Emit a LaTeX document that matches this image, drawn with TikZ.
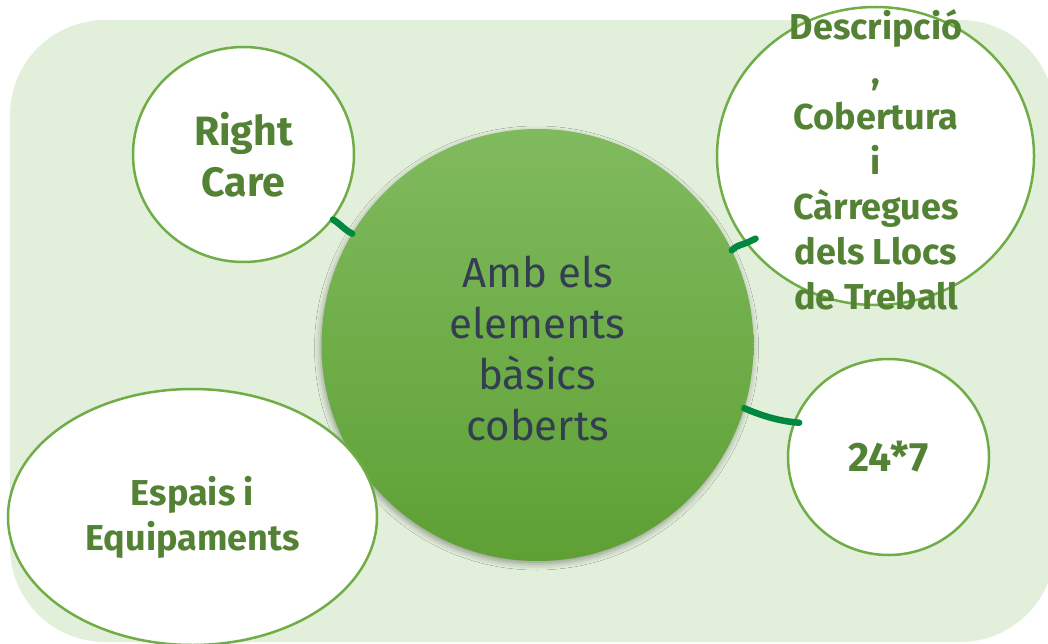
\documentclass[tikz,border=0pt]{standalone}
\usepackage{fontspec}
\setmainfont{Fira Sans}
\usetikzlibrary{shapes.geometric,shadows.blur}
\definecolor{bgg}{RGB}{226,239,218}
\definecolor{ring}{RGB}{112,173,71}
\definecolor{lbl}{RGB}{84,130,53}
\definecolor{ctxt}{RGB}{51,63,80}
\definecolor{conn}{RGB}{0,136,62}
\definecolor{topg}{RGB}{128,186,94}
\definecolor{botg}{RGB}{94,160,52}
\begin{document}
\begin{tikzpicture}[x=1pt,y=-1pt,
  sat/.style={ellipse, draw=ring, line width=2.5pt, fill=white, inner sep=0pt},
  lab/.style={text=lbl, font=\bfseries\fontsize{36}{45}\selectfont, align=center},
  link/.style={draw=conn, line width=6.5pt, line cap=round}]
\clip (0,0) rectangle (1048,644);
\fill[bgg, rounded corners=95pt] (10,20) rectangle (1055,642);
\node[circle, minimum size=432pt, inner sep=0pt, top color=topg, bottom color=botg,
  blur shadow={shadow xshift=-1pt, shadow yshift=-3pt, shadow blur radius=6pt, shadow opacity=35}] (main) at (537.5,345) {};
\node[text=ctxt, font=\fontsize{42}{51}\selectfont, align=center] (mtext) at (537.5,348) {Amb els\\elements\\bàsics\\coberts};
\node[sat, minimum width=221pt, minimum height=215pt, lab, font=\bfseries\fontsize{41}{51}\selectfont] (rc) at (243.5,154.5) {Right\\Care};
\node[sat, minimum width=317pt, minimum height=298pt] (desc) at (875.5,156) {};
\node[lab] (desctext) at (876,160) {Descripció\\,\\Cobertura\\i\\Càrregues\\dels Llocs\\de Treball};
\node[sat, minimum width=369pt, minimum height=256pt, lab] (esp) at (192.5,517) {Espais i\\Equipaments};
\node[sat, minimum width=201pt, minimum height=196pt, lab, font=\bfseries\fontsize{41}{51}\selectfont] (t247) at (888.5,457) {24*7};
\draw[link] (rc.-36) .. controls +(8,5) and +(-8,-4) .. (main.149);
\draw[link, shorten >=-11pt] (main.26) .. controls +(8,-7) and +(-8,4) .. (desc.214);
\draw[link, shorten >=-6pt] (main.-17) .. controls +(16,7) and +(-14,-1) .. (t247.160);
\end{tikzpicture}
\end{document}
